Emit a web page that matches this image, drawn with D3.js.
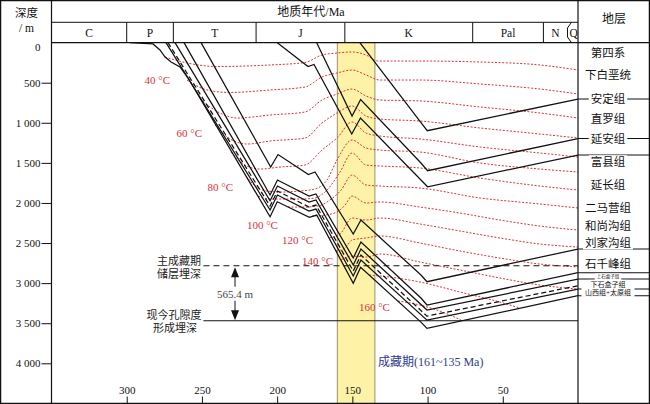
<!DOCTYPE html>
<html><head><meta charset="utf-8">
<script src="https://cdn.jsdelivr.net/npm/d3@7"></script>
<style>
html,body{margin:0;padding:0;background:#fff;}
svg{display:block;}
text{font-family:"Liberation Serif","Noto Sans CJK SC",serif;}
</style></head><body>
<svg id="c" width="650" height="404"></svg>
<script>
// ---------------- DATA ----------------
const periods = ["C","P","T","J","K","Pal","N","Q"];
const periodBounds = [350,300,269,214,155,70,23,7,0];
const depthTicks = [0,500,1000,1500,2000,2500,3000,3500,4000];
const ageTicks = [300,250,200,150,100,50];
const bandAges = [160,135];
const bandText = "成藏期(161~135 Ma)";
const mainDepth = 2783;      // 主成藏期储层埋深
const presentDepth = 3469;   // 现今孔隙度形成埋深
const depthDiffText = "565.4 m";
const refStartAge = 249;
const arrowAge = 228;

// burial history lines [age Ma, depth m]
const burialAnding   = [[145,0],[104,1007],[100.2,1099],[0,704]];
const burialYanan    = [[173.8,0],[150.2,916],[144.5,710],[104.4,1502],[100,1598],[0,1196]];
const burialFuxian   = [[200.1,0],[179.5,298],[175.5,273],[150.4,1140],[144.6,941],[104.4,1714],[100,1798],[0,1402]];
const burialShiqian  = [[250.6,0],[204.3,1552],[199.4,1396],[179.2,1645],[174.8,1614],[149.4,2388],[144.3,2213],[104.4,2899],[100.4,2982],[0,2575]];
const burialUpShihe  = [[261.9,0],[204.7,1901],[199.8,1714],[178.8,1914],[174.2,1888],[149.4,2687],[144.3,2487],[104.4,3186],[100.4,3273],[0,2870]];
const burialLowShihe = [[267.9,0],[204.7,1972],[199.8,1789],[178.8,1988],[174.2,1963],[149.4,2774],[144.3,2575],[100.4,3336],[0,2949]];
const burialReservoir= [[272.6,0],[204.7,2038],[199.8,1851],[178.8,2051],[174.2,2026],[149.4,2849],[144.3,2650],[100.4,3411],[0,3032]];
const burialShanxi   = [[273.9,0],[204.7,2088],[199.8,1901],[178.8,2101],[174.2,2076],[149.4,2911],[144.3,2712],[100.4,3461],[0,3074]];
const burialBase     = [[297.8,0],[282.5,17],[277.9,92],[274.5,180],[270.5,242],[264.6,304],[259.2,442],[204.7,2172],[199.9,1985],[178.6,2179],[173.7,2151],[149.4,3002],[144.5,2803],[104.4,3486],[100.4,3564],[0,3157]];
const burialLines = [burialAnding,burialYanan,burialFuxian,burialShiqian,burialUpShihe,burialLowShihe,burialReservoir,burialShanxi,burialBase];
const burialDashed = [false,false,false,false,false,false,true,false,false];

// isotherms [age Ma, depth m]
const isoTemps = [30,40,50,60,70,80,90,100,110,120,130,140,150,160];
const iso30=[[274.5,180],[259.9,254],[240,298],[204.7,279],[181.5,248],[170.2,155],[160.2,130],[150.2,117],[140.9,155],[133,230],[105,230],[65.1,242],[25.3,279],[0,342]];
const iso40=[[259.9,467],[246.6,591],[231.3,622],[204.7,591],[181.5,554],[170.2,429],[160.2,379],[150.2,342],[140.9,404],[131.6,467],[105,467],[65.1,516],[25.3,579],[0,641]];
const iso50=[[251.3,704],[238,878],[226.7,941],[204.7,903],[181.5,866],[170.2,716],[160.2,641],[150.2,579],[140.9,666],[131.6,716],[105,728],[65.1,803],[25.3,878],[0,941]];
const iso60=[[241.3,1028],[231.3,1202],[220,1265],[204.7,1227],[181.5,1190],[170.2,1003],[160.2,878],[150.2,791],[140.9,916],[131.6,953],[105,978],[65.1,1065],[25.3,1140],[0,1190]];
const iso70=[[230.7,1365],[221.4,1527],[211.4,1577],[198.1,1552],[181.5,1527],[170.2,1340],[160.2,1190],[150.2,990],[140.9,1128],[131.6,1165],[105,1202],[65.1,1302],[25.3,1377],[0,1427]];
const iso80=[[220.7,1664],[210.1,1839],[198.1,1864],[184.8,1851],[174.8,1826],[166.9,1714],[160.2,1464],[150.2,1215],[140.9,1315],[131.6,1340],[105,1365],[65.1,1502],[25.3,1577],[0,1614]];
const iso90=[[212.7,1914],[204.7,1951],[198.1,1951],[184.8,1951],[174.8,1938],[166.9,1839],[158.2,1614],[150.2,1377],[140.9,1527],[131.6,1539],[105,1564],[65.1,1689],[25.3,1789],[0,1839]];
const iso100=[[192.8,2051],[181.5,2051],[172.8,2038],[164.9,1963],[157.5,1839],[150.2,1652],[140.9,1776],[131.6,1789],[105,1814],[65.1,1938],[25.3,2013],[0,2063]];
const iso110=[[176.8,2163],[168.2,2151],[160.2,2113],[154.9,2026],[150.2,1914],[140.9,2001],[131.6,1988],[105,2051],[78.4,2126],[51.9,2213],[25.3,2288],[0,2338]];
const iso120=[[165.5,2437],[158.2,2388],[150.2,2188],[140.9,2213],[131.6,2188],[105,2263],[78.4,2350],[51.9,2437],[25.3,2512],[0,2550]];
const iso130=[[160.9,2600],[154.9,2562],[150.2,2462],[140.9,2437],[131.6,2412],[105,2500],[78.4,2600],[51.9,2687],[25.3,2762],[0,2799]];
const iso140=[[157.5,2712],[150.2,2662],[140.9,2675],[131.6,2637],[105,2737],[78.4,2837],[51.9,2936],[25.3,3024],[0,3074]];
const iso150=[[138.9,2899],[131.6,2911],[105,2986],[78.4,3111],[51.9,3236],[38.6,3311]];
const iso160=[[119.7,3223],[105,3273],[88.4,3373],[77.1,3467]];
const isotherms=[iso30,iso40,iso50,iso60,iso70,iso80,iso90,iso100,iso110,iso120,iso130,iso140,iso150,iso160];
const labeledTemps=[40,60,80,100,120,140,160];

// right column formations
const formations=["第四系","下白垩统","安定组","直罗组","延安组","富县组","延长组","二马营组","和尚沟组","刘家沟组","石千峰组","上石盒子组","下石盒子组","山西组+太原组"];
const formationDepths=[126,398,707,953,1206,1489,1776,2067,2284,2496,2762,2920,3015,3115];

// ---------------- LAYOUT ----------------
const W=650,H=404;
const L=51.5,R=578,T=42.6,B=403.4;
const x=d3.scaleLinear().domain([350,0]).range([L,R]);
const y=d3.scaleLinear().domain([0,4500]).range([T,B]);
const svg=d3.select("#c");
const RED="#d8323e";
const labelOff={40:[-17,4],60:[-13,12],80:[-13,14.5],100:[-10,22],120:[-16,6.5],140:[-8,5],160:[-8,9.5]};
const fontSizeFor=n=> n==="上石盒子组"?4.5:(n==="下石盒子组"||n==="山西组+太原组")?7:11.5;

svg.append("defs").append("clipPath").attr("id","pc").append("rect")
  .attr("x",L).attr("y",T).attr("width",R-L).attr("height",H-T);

// band
svg.append("rect").attr("x",x(bandAges[0])).attr("y",T).attr("width",x(bandAges[1])-x(bandAges[0]))
  .attr("height",H-T).attr("fill","#fdf2a6");
bandAges.forEach(a=>svg.append("line").attr("x1",x(a)).attr("x2",x(a)).attr("y1",T).attr("y2",H)
  .attr("stroke","#8b8660").attr("stroke-width",0.9));

const plot=svg.append("g").attr("clip-path","url(#pc)");

// isotherms
const isoLine=d3.line().x(d=>x(d[0])).y(d=>y(d[1])).curve(d3.curveMonotoneX);
plot.selectAll("path.iso").data(isotherms).join("path").attr("class","iso")
  .attr("d",isoLine).attr("fill","none").attr("stroke",RED).attr("stroke-width",1)
  .attr("stroke-dasharray","2,1.6");

// reference lines
plot.append("line").attr("x1",x(refStartAge)).attr("x2",R).attr("y1",y(mainDepth)).attr("y2",y(mainDepth))
  .attr("stroke","#111").attr("stroke-width",1.1).attr("stroke-dasharray","6,4");
plot.append("line").attr("x1",x(refStartAge)).attr("x2",R).attr("y1",y(presentDepth)).attr("y2",y(presentDepth))
  .attr("stroke","#111").attr("stroke-width",1.2);

// burial lines
const bLine=d3.line().x(d=>x(d[0])).y(d=>y(d[1]));
plot.selectAll("path.bur").data(burialLines).join("path").attr("class","bur")
  .attr("d",bLine).attr("fill","none").attr("stroke","#111").attr("stroke-width",1.25)
  .attr("stroke-linejoin","miter")
  .attr("stroke-dasharray",(d,i)=>burialDashed[i]?"5,3":null);

// arrow
const ax=x(arrowAge), ya=y(mainDepth)+1.5, yb=y(presentDepth)-0.5;
svg.append("line").attr("x1",ax).attr("x2",ax).attr("y1",ya+8).attr("y2",yb-8).attr("stroke","#111").attr("stroke-width",1);
svg.append("path").attr("d",`M${ax},${ya}L${ax-4},${ya+10}L${ax+4},${ya+10}Z`).attr("fill","#111");
svg.append("path").attr("d",`M${ax},${yb}L${ax-4},${yb-10}L${ax+4},${yb-10}Z`).attr("fill","#111");
const mid=(ya+yb)/2;
svg.append("rect").attr("x",ax-20).attr("y",mid-7).attr("width",40).attr("height",14).attr("fill","#fff");
svg.append("text").attr("x",ax).attr("y",mid+4).attr("text-anchor","middle").attr("font-size",11)
  .attr("fill","#444").text(depthDiffText);

// ref labels
const refLab=[["主成藏期",179,y(mainDepth)-1],["储层埋深",179,y(mainDepth)+12],["现今孔隙度",174,y(presentDepth)-2],["形成埋深",175,y(presentDepth)+11]];
refLab.forEach(d=>svg.append("text").attr("x",d[1]).attr("y",d[2]).attr("text-anchor","middle")
  .attr("font-size",11).attr("fill","#222").text(d[0]));

// temperature labels
labeledTemps.forEach(t=>{
  const i=isoTemps.indexOf(t), p=isotherms[i][0], o=labelOff[t];
  svg.append("text").attr("x",x(p[0])+o[0]).attr("y",y(p[1])+o[1]).attr("text-anchor","end")
    .attr("font-size",11).attr("fill",RED).text(t+" °C");
});

// band label
svg.append("text").attr("x",x(bandAges[1])+3).attr("y",366).attr("font-size",12).attr("fill","#2e3a8c").text(bandText);

// axes
const yAx=svg.append("g").attr("transform",`translate(${L},0)`)
  .call(d3.axisLeft(y).tickValues(depthTicks).tickSize(10).tickPadding(1)
    .tickFormat(d=>d>=1000?String(Math.floor(d/1000))+" "+String(d%1000).padStart(3,"0"):String(d)));
yAx.select(".domain").remove();
yAx.selectAll("text").attr("font-size",11).attr("fill","#111").style("font-family",'"Liberation Serif",serif');
yAx.selectAll(".tick").filter(d=>d===0).select("line").remove();
yAx.selectAll(".tick").filter(d=>d===0).select("text").attr("dy","0.75em");
yAx.selectAll("line").attr("stroke","#111");

const xAx=svg.append("g").attr("transform",`translate(0,${H-0.5})`)
  .call(d3.axisTop(x).tickValues(ageTicks).tickSize(7).tickPadding(3));
xAx.select(".domain").remove();
xAx.selectAll("text").attr("font-size",11).attr("fill","#111").style("font-family",'"Liberation Serif",serif');
xAx.selectAll("line").attr("stroke","#111");

// frame
const fr=svg.append("g").attr("stroke","#111").attr("fill","none");
fr.append("rect").attr("x",0.6).attr("y",0.6).attr("width",W-1.2).attr("height",H-1.2).attr("stroke-width",1.3);
fr.append("line").attr("x1",L).attr("x2",L).attr("y1",0).attr("y2",H).attr("stroke-width",1.2);
fr.append("line").attr("x1",R).attr("x2",R).attr("y1",0).attr("y2",H).attr("stroke-width",1.2);
fr.append("line").attr("x1",L).attr("x2",R).attr("y1",22.3).attr("y2",22.3);
fr.append("line").attr("x1",L).attr("x2",W).attr("y1",T).attr("y2",T).attr("stroke-width",1.2);
// period boundaries
periodBounds.slice(1,-2).forEach(a=>fr.append("line").attr("x1",x(a)).attr("x2",x(a)).attr("y1",22.3).attr("y2",T));
// Q bracket
const qa=x(periodBounds[7]);
fr.append("path").attr("d",`M${qa+4},22.3L${qa},28L${qa},37L${qa+4},${T}`);

// header texts
svg.append("text").attr("x",311).attr("y",16).attr("text-anchor","middle").attr("font-size",12).attr("fill","#111").text("地质年代/Ma");
svg.append("text").attr("x",26.5).attr("y",17).attr("text-anchor","middle").attr("font-size",11.5).attr("fill","#111").text("深度");
svg.append("text").attr("x",26.5).attr("y",32).attr("text-anchor","middle").attr("font-size",11.5).attr("fill","#111").text("/ m");
svg.append("text").attr("x",614).attr("y",23).attr("text-anchor","middle").attr("font-size",12).attr("fill","#111").text("地层");
periods.forEach((p,i)=>{
  const cx = i===7 ? (qa+2+R)/2 : (x(periodBounds[i])+x(periodBounds[i+1]))/2;
  svg.append("text").attr("x",cx).attr("y",37).attr("text-anchor","middle").attr("font-size",11.5).attr("fill","#111").text(p);
});

// right column stratum lines (continuations)
burialLines.forEach((d,i)=>{ if(!burialDashed[i]){ const e=d[d.length-1];
  svg.append("line").attr("x1",R).attr("x2",W).attr("y1",y(e[1])).attr("y2",y(e[1])).attr("stroke","#111").attr("stroke-width",1.1);}});
// formation labels
formations.forEach((f,i)=>{
  const fs=fontSizeFor(f), cx=608, cy=y(formationDepths[i]);
  const w=f.length*fs+4;
  svg.append("rect").attr("x",cx-w/2).attr("y",cy-fs/2-1).attr("width",w).attr("height",fs+2).attr("fill","#fff");
  svg.append("text").attr("x",cx).attr("y",cy+fs*0.36).attr("text-anchor","middle").attr("font-size",fs)
    .attr("fill","#111").text(f);
});
</script></body></html>
